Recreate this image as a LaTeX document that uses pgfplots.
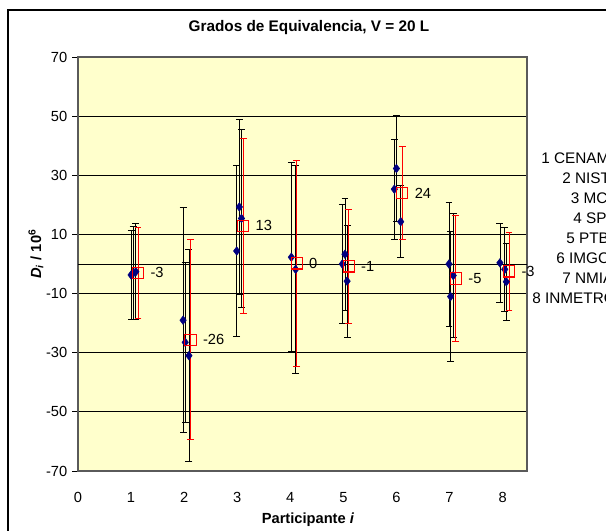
\documentclass[border=0pt]{standalone}
\usepackage{fontspec}
\setmainfont{Liberation Sans}
\usepackage{pgfplots}
\usepackage{pgfplotstable}
\pgfplotsset{compat=1.18}
\definecolor{plotbg}{RGB}{255,255,204}
\definecolor{navyblue}{RGB}{0,0,128}
\definecolor{axisgray}{RGB}{90,90,90}

% laboratory results: x (offset per participant), D_i, U
\pgfplotstableread{
x     y      ey
1.00  -3.7   15.2
1.04  -3.1   15.8
1.09  -2.6   16.2
1.98  -19.0  38.0
2.02  -26.5  27.0
2.09  -31.0  35.8
2.99  4.4    29.0
3.04  19.3   29.7
3.08  15.4   30.0
4.02  2.3    32.0
4.10  -1.8   35.2
4.98  0.0    20.0
5.03  3.3    19.0
5.07  -5.8   19.0
5.96  25.3   17.0
6.00  32.3   18.0
6.08  14.3   12.2
6.99  0.0    21.0
7.02  -11.0  22.0
7.07  -3.9   21.0
7.95  0.4    13.4
8.04  -1.8   14.1
8.07  -6.0   13.0
}\labs

% degrees of equivalence
\pgfplotstableread{
x     y      ey    lab
1.13  -3.0   15.3  -3
2.12  -25.6  33.8  -26
3.11  12.9   29.5  13
4.12  0.2    34.7  0
5.10  -0.8   19.2  -1
6.11  24.0   15.7  24
7.12  -4.9   21.3  -5
8.12  -2.5   13.3  -3
}\doe

\begin{document}
\begin{tikzpicture}
\useasboundingbox (0,0) rectangle (454.5pt,-398.25pt);
\clip (0,0) rectangle (454.5pt,-398.25pt);

\begin{axis}[
    at={(58.5pt,-42.75pt)}, anchor=north west,
    scale only axis,
    width=336.75pt, height=310.5pt,
    xmin=0, xmax=8.46,
    ymin=-70, ymax=70,
    xtick={0,1,...,8},
    ytick={-70,-50,...,70},
    extra y ticks={0},
    extra y tick labels={},
    extra y tick style={major tick length=0pt},
    ymajorgrids,
    major grid style={black, line width=0.6pt},
    axis background/.style={fill=plotbg},
    axis line style={draw=axisgray, line width=0.8pt},
    tick align=outside,
    major tick length=4.5pt,
    xtick style={draw=none},
    ytick style={black, line width=0.6pt},
    ytick pos=left,
    xtick pos=bottom,
    tick label style={font=\fontsize{11}{13}\selectfont},
    xticklabel style={yshift=-8pt},
    /pgf/number format/assume math mode=true,
]
\addplot+[only marks, mark=diamond*, mark size=3.2pt,
    mark options={draw=navyblue, fill=navyblue},
    error bars/.cd, y dir=both, y explicit,
    error bar style={black, line width=0.6pt},
    error mark options={rotate=90, black, mark size=2.6pt, line width=0.6pt}]
    table[x=x, y=y, y error=ey] {\labs};

\addplot+[only marks, mark=square, mark size=4.2pt,
    mark options={draw=red, fill=none, line width=0.8pt},
    point meta=explicit symbolic,
    nodes near coords,
    nodes near coords style={anchor=west, xshift=9pt, inner sep=0pt,
        font=\fontsize{11}{13}\selectfont, text=black},
    error bars/.cd, y dir=both, y explicit,
    error bar style={red, line width=0.7pt},
    error mark options={rotate=90, red, mark size=2.6pt, line width=0.7pt}]
    table[x=x, y=y, y error=ey, meta=lab] {\doe};
\end{axis}

\begin{scope}[x=0.75pt, y=-0.75pt]
\draw[black, line width=0.8pt] (8,10) rectangle (640,560);
\node[font=\bfseries\fontsize{11.5}{13}\selectfont] at (309,28)
    {Grados de Equivalencia, V = 20 L};
\node[font=\bfseries\fontsize{11}{13}\selectfont] at (308,520)
    {Participante \textit{i}};
\node[font=\bfseries\fontsize{11}{13}\selectfont, rotate=90] at (36,254)
    {\textit{D}\textsubscript{\textit{i}} / 10\textsuperscript{6}};
\begin{scope}[every node/.style={anchor=west, inner sep=0pt,
    font=\fontsize{11.5}{13}\selectfont}]
\node at (541,158) {1 CENAM};
\node at (562,178) {2 NIST};
\node at (570.5,198) {3 MC};
\node at (573,218) {4 SP};
\node at (566,238) {5 PTB};
\node at (556,258) {6 IMGC};
\node at (562,278) {7 NMIA};
\node at (532,298) {8 INMETRO};
\end{scope}
\end{scope}
\end{tikzpicture}
\end{document}
